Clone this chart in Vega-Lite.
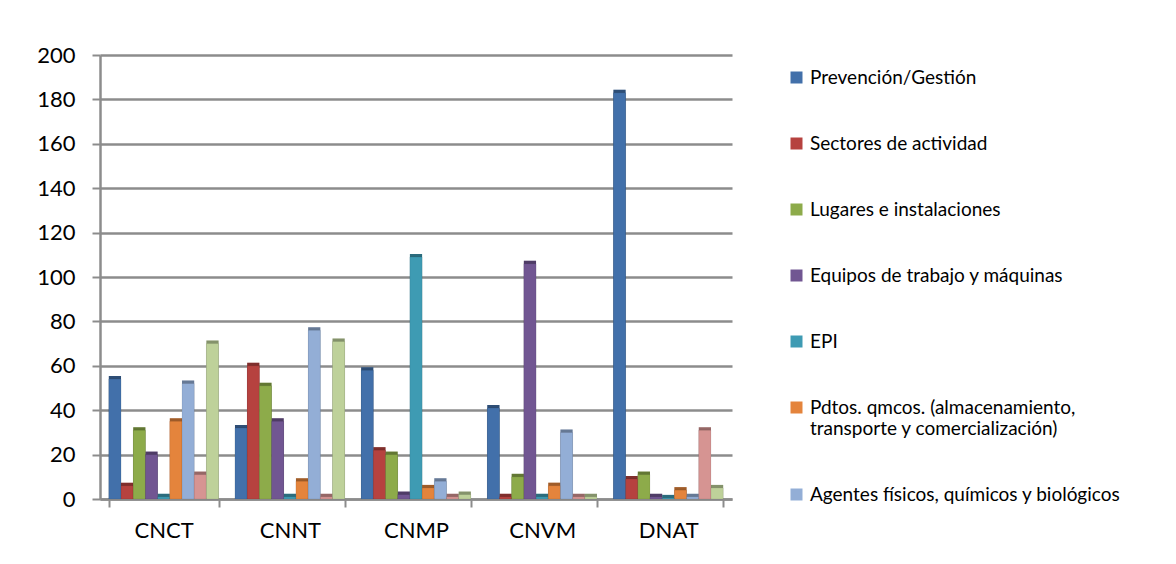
{
  "$schema": "https://vega.github.io/schema/vega-lite/v6.json",
  "width": 632,
  "height": 444,
  "autosize": {"type": "none"},
  "padding": {"left": 100, "top": 55, "right": 444, "bottom": 65},
  "background": "white",
  "config": {
    "font": "Lato",
    "view": {"stroke": null}
  },
  "data": {
    "values": [
      {"cat": "CNCT", "serie": "Prevención/Gestión", "value": 54},
      {"cat": "CNCT", "serie": "Sectores de actividad", "value": 6},
      {"cat": "CNCT", "serie": "Lugares e instalaciones", "value": 31},
      {"cat": "CNCT", "serie": "Equipos de trabajo y máquinas", "value": 20},
      {"cat": "CNCT", "serie": "EPI", "value": 1},
      {"cat": "CNCT", "serie": "Pdtos. qmcos. (almacenamiento, transporte y comercialización)", "value": 35},
      {"cat": "CNCT", "serie": "Agentes físicos, químicos y biológicos", "value": 52},
      {"cat": "CNCT", "serie": "Serie 8", "value": 11},
      {"cat": "CNCT", "serie": "Serie 9", "value": 70},
      {"cat": "CNNT", "serie": "Prevención/Gestión", "value": 32},
      {"cat": "CNNT", "serie": "Sectores de actividad", "value": 60},
      {"cat": "CNNT", "serie": "Lugares e instalaciones", "value": 51},
      {"cat": "CNNT", "serie": "Equipos de trabajo y máquinas", "value": 35},
      {"cat": "CNNT", "serie": "EPI", "value": 1},
      {"cat": "CNNT", "serie": "Pdtos. qmcos. (almacenamiento, transporte y comercialización)", "value": 8},
      {"cat": "CNNT", "serie": "Agentes físicos, químicos y biológicos", "value": 76},
      {"cat": "CNNT", "serie": "Serie 8", "value": 1},
      {"cat": "CNNT", "serie": "Serie 9", "value": 71},
      {"cat": "CNMP", "serie": "Prevención/Gestión", "value": 58},
      {"cat": "CNMP", "serie": "Sectores de actividad", "value": 22},
      {"cat": "CNMP", "serie": "Lugares e instalaciones", "value": 20},
      {"cat": "CNMP", "serie": "Equipos de trabajo y máquinas", "value": 2},
      {"cat": "CNMP", "serie": "EPI", "value": 109},
      {"cat": "CNMP", "serie": "Pdtos. qmcos. (almacenamiento, transporte y comercialización)", "value": 5},
      {"cat": "CNMP", "serie": "Agentes físicos, químicos y biológicos", "value": 8},
      {"cat": "CNMP", "serie": "Serie 8", "value": 1},
      {"cat": "CNMP", "serie": "Serie 9", "value": 2},
      {"cat": "CNVM", "serie": "Prevención/Gestión", "value": 41},
      {"cat": "CNVM", "serie": "Sectores de actividad", "value": 1},
      {"cat": "CNVM", "serie": "Lugares e instalaciones", "value": 10},
      {"cat": "CNVM", "serie": "Equipos de trabajo y máquinas", "value": 106},
      {"cat": "CNVM", "serie": "EPI", "value": 1},
      {"cat": "CNVM", "serie": "Pdtos. qmcos. (almacenamiento, transporte y comercialización)", "value": 6},
      {"cat": "CNVM", "serie": "Agentes físicos, químicos y biológicos", "value": 30},
      {"cat": "CNVM", "serie": "Serie 8", "value": 1},
      {"cat": "CNVM", "serie": "Serie 9", "value": 1},
      {"cat": "DNAT", "serie": "Prevención/Gestión", "value": 183},
      {"cat": "DNAT", "serie": "Sectores de actividad", "value": 9},
      {"cat": "DNAT", "serie": "Lugares e instalaciones", "value": 11},
      {"cat": "DNAT", "serie": "Equipos de trabajo y máquinas", "value": 1},
      {"cat": "DNAT", "serie": "EPI", "value": 0.5},
      {"cat": "DNAT", "serie": "Pdtos. qmcos. (almacenamiento, transporte y comercialización)", "value": 4},
      {"cat": "DNAT", "serie": "Agentes físicos, químicos y biológicos", "value": 1},
      {"cat": "DNAT", "serie": "Serie 8", "value": 31},
      {"cat": "DNAT", "serie": "Serie 9", "value": 5}
    ]
  },
  "encoding": {
    "x": {
      "field": "cat",
      "type": "nominal",
      "sort": ["CNCT", "CNNT", "CNMP", "CNVM", "DNAT"],
      "scale": {"paddingInner": 0.13, "paddingOuter": 0.07},
      "axis": {
        "title": null,
        "labelAngle": 0,
        "labelFontSize": 22,
        "labelColor": "#000000",
        "labelPadding": 13,
        "domainColor": "#8c8c8c",
        "domainWidth": 2.5,
        "tickColor": "#8c8c8c",
        "tickWidth": 2,
        "tickSize": 8,
        "tickBand": "extent",
        "grid": false
      }
    },
    "xOffset": {
      "field": "serie",
      "type": "nominal",
      "sort": null,
      "scale": {"paddingInner": 0, "paddingOuter": 0}
    },
    "y": {
      "field": "value",
      "type": "quantitative",
      "stack": null,
      "scale": {"domain": [0, 200], "nice": false},
      "axis": {
        "title": null,
        "values": [0, 20, 40, 60, 80, 100, 120, 140, 160, 180, 200],
        "labelFontSize": 22,
        "labelColor": "#000000",
        "labelPadding": 17,
        "domainColor": "#8c8c8c",
        "domainWidth": 2.5,
        "tickColor": "#8c8c8c",
        "tickWidth": 2,
        "tickSize": 8,
        "gridColor": "#8c8c8c",
        "gridWidth": 2.5
      }
    }
  },
  "layer": [
    {
      "mark": {"type": "bar", "xOffset": 3, "yOffset": -3},
      "encoding": {
        "color": {
          "field": "serie",
          "type": "nominal",
          "sort": null,
          "scale": {
            "domain": [
              "Prevención/Gestión",
              "Sectores de actividad",
              "Lugares e instalaciones",
              "Equipos de trabajo y máquinas",
              "EPI",
              "Pdtos. qmcos. (almacenamiento, transporte y comercialización)",
              "Agentes físicos, químicos y biológicos",
              "Serie 8",
              "Serie 9"
            ],
            "range": ["#4270AA", "#B6423F", "#8DAB4A", "#715692", "#3E9BB3", "#E4843C", "#93AED6", "#D69492", "#BED19A"]
          },
          "legend": {
            "title": null,
            "orient": "none",
            "legendX": 687,
            "legendY": 13,
            "values": [
              "Prevención/Gestión",
              "Sectores de actividad",
              "Lugares e instalaciones",
              "Equipos de trabajo y máquinas",
              "EPI",
              "Pdtos. qmcos. (almacenamiento, transporte y comercialización)",
              "Agentes físicos, químicos y biológicos"
            ],
            "symbolType": "square",
            "symbolSize": 144,
            "symbolStrokeWidth": 0,
            "labelFontSize": 19,
            "labelColor": "#000000",
            "labelOffset": 4,
            "labelLimit": 400,
            "rowPadding": 46,
            "labelExpr": "indexof(datum.label, 'Pdtos') == 0 ? ['Pdtos. qmcos. (almacenamiento,', 'transporte y comercialización)'] : datum.label"
          }
        }
      }
    },
    {
      "mark": {"type": "bar", "xOffset": 3, "yOffset": -3, "color": "#000000", "opacity": 0.3}
    },
    {
      "mark": {"type": "bar", "stroke": "#00000026", "strokeWidth": 0.5},
      "encoding": {
        "color": {"field": "serie", "type": "nominal", "sort": null}
      }
    }
  ]
}
